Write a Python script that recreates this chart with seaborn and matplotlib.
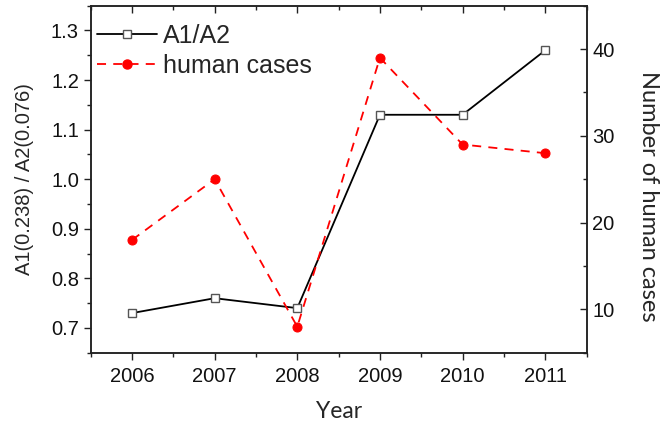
import matplotlib
matplotlib.use('Agg')
import matplotlib.pyplot as plt
from matplotlib.ticker import MultipleLocator, FormatStrFormatter
from matplotlib.lines import Line2D
import seaborn as sns
import pandas as pd

# 数据
years = [2006, 2007, 2008, 2009, 2010, 2011]
ratio_a1_a2 = [0.73, 0.76, 0.74, 1.13, 1.13, 1.26]
human_cases = [18, 25, 8, 39, 29, 28]

df = pd.DataFrame({'Year': years, 'ratio': ratio_a1_a2, 'cases': human_cases})

sns.set_theme(style='ticks')
plt.rcParams['font.family'] = ['Liberation Sans', 'DejaVu Sans']

fig = plt.figure(figsize=(6.62, 4.25), dpi=100)
ax = fig.add_axes([0.137, 0.170, 0.749, 0.8166])
ax2 = ax.twinx()

dash = (0, (5, 4))
# 左轴：A1/A2
sns.lineplot(data=df, x='Year', y='ratio', ax=ax, color='black', lw=1.3,
			 marker='s', markersize=6, markerfacecolor='white',
			 markeredgecolor='#555555', markeredgewidth=1.0, legend=False)
# 右轴：人数
sns.lineplot(data=df, x='Year', y='cases', ax=ax2, color='#ff0000', lw=1.3,
			 linestyle=dash, marker='o', markersize=6.5,
			 markeredgecolor='#ff0000', markerfacecolor='#ff0000', legend=False)

ax.set_xlim(2005.5, 2011.5)
ax.set_ylim(0.65, 1.35)
ax2.set_ylim(5, 45)

ax.xaxis.set_major_locator(MultipleLocator(1))
ax.xaxis.set_minor_locator(MultipleLocator(0.5))
ax.yaxis.set_major_locator(MultipleLocator(0.1))
ax.yaxis.set_minor_locator(MultipleLocator(0.05))
ax2.yaxis.set_major_locator(MultipleLocator(10))
ax2.yaxis.set_minor_locator(MultipleLocator(5))
ax.yaxis.set_major_formatter(FormatStrFormatter('%.1f'))

for a in (ax, ax2):
	for s in a.spines.values():
		s.set_visible(True)
		s.set_linewidth(1.1)
		s.set_color('#222222')

ax.tick_params(axis='both', which='major', direction='out', length=5, width=1.0,
			   labelsize=14.5, color='#222222', labelcolor='#111111')
ax.tick_params(axis='x', which='major', pad=5)
ax.tick_params(axis='both', which='minor', direction='out', length=3, width=1.0, color='#222222')
ax2.tick_params(axis='y', which='major', direction='in', length=5, width=1.0,
				labelsize=14.5, color='#222222', labelcolor='#111111', pad=4)
ax2.tick_params(axis='y', which='minor', direction='in', length=3, width=1.0, color='#222222')

# 顶部刻度朝内
top = ax.secondary_xaxis('top')
top.xaxis.set_major_locator(MultipleLocator(1))
top.xaxis.set_minor_locator(MultipleLocator(0.5))
top.tick_params(which='major', direction='in', length=5, width=1.0, labeltop=False, color='#222222')
top.tick_params(which='minor', direction='in', length=3, width=1.0, color='#222222')
top.spines['top'].set_visible(False)

ax.set_xlabel('Year', fontsize=16.5, family=['Lato', 'DejaVu Sans'], labelpad=11)
ax.set_ylabel('A1(0.238) / A2(0.076)', fontsize=14.5, labelpad=12)
ax2.set_ylabel('Number of human cases', fontsize=17, family=['Lato', 'DejaVu Sans'],
			   rotation=270, va='bottom')
ax2.yaxis.set_label_coords(1.103, 0.45)

handles = [
	Line2D([], [], color='black', lw=1.3, marker='s', markersize=6, markerfacecolor='white',
		   markeredgecolor='#555555', markeredgewidth=1.0),
	Line2D([], [], color='#ff0000', lw=1.3, linestyle=dash, marker='o', markersize=6.5),
]
ax2.legend(handles, ['A1/A2', 'human cases'], loc='upper left', bbox_to_anchor=(0.003, 0.962),
		   frameon=False, fontsize=18, handlelength=2.4, handletextpad=0.25,
		   labelspacing=0.25, borderaxespad=0, borderpad=0.2)

fig.savefig('out.png', dpi=100)
